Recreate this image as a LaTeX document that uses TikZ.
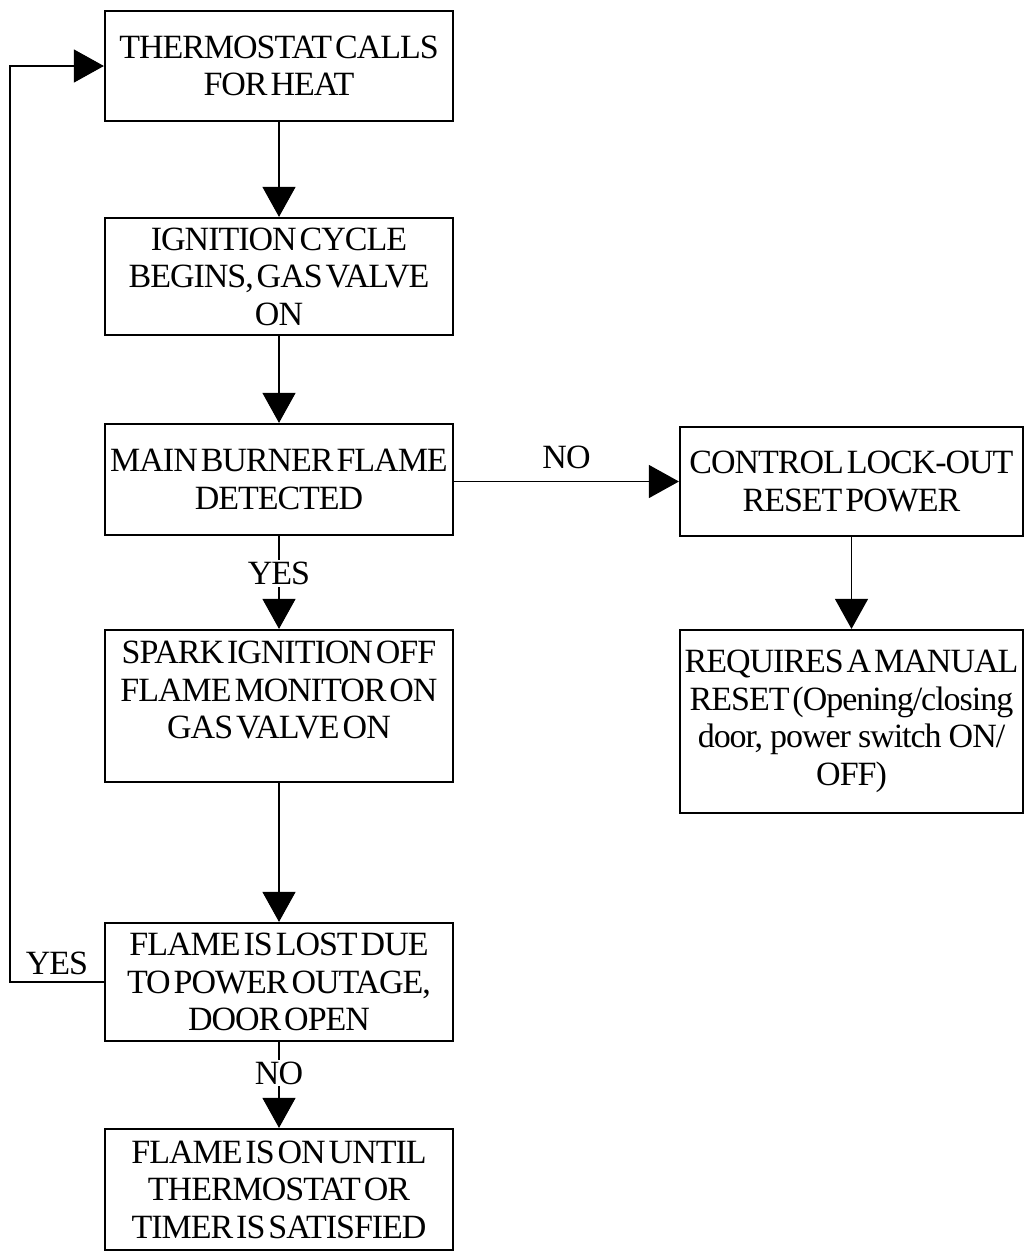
\documentclass[tikz,border=0pt]{standalone}
\usepackage{fontspec}
\setmainfont{Liberation Serif}[WordSpace=0.4,LetterSpace=-3]
\usetikzlibrary{arrows.meta}
\tikzset{
  box/.style={draw, line width=2.2pt, minimum width=348pt, inner sep=0pt, align=center,
    font=\fontsize{34}{37.5}\selectfont},
  rbox/.style={box, minimum width=343pt},
  txt/.style={inner sep=0pt, align=center, font=\fontsize{34}{37.5}\selectfont},
  conn/.style={line width=1.1pt, -{Triangle[width=33pt,length=30pt]}},
  lab/.style={fill=white, inner sep=2pt, font=\fontsize{34}{37.5}\selectfont}
}
\begin{document}
\begin{tikzpicture}[x=1pt,y=-1pt]
\useasboundingbox (0,0) rectangle (1024,1251);
\node[box, minimum height=110pt] (b1) at (279,66) {THERMOSTAT CALLS\\FOR HEAT};
\node[box, minimum height=117pt] (b2) at (279,276.5) {IGNITION CYCLE\\BEGINS, GAS VALVE\\ON};
\node[box, minimum height=111pt] (b3) at (279,479.5) {MAIN BURNER FLAME\\DETECTED};
\node[rbox, minimum height=109pt] (b4) at (851.5,481.5) {CONTROL LOCK-OUT\\RESET POWER};
\node[box, minimum height=152pt] (b5) at (279,706) {};
\node[txt] (b5t) at (279,690) {SPARK IGNITION OFF\\FLAME MONITOR ON\\GAS VALVE ON};
\node[box, minimum height=118pt] (b6) at (279,982) {FLAME IS LOST DUE\\TO POWER OUTAGE,\\DOOR OPEN};
\node[box, minimum height=121pt] (b7) at (279,1189.5) {FLAME IS ON UNTIL\\THERMOSTAT OR\\TIMER IS SATISFIED};
\node[rbox, minimum height=183pt] (b8) at (851.5,721.5) {REQUIRES A MANUAL\\RESET (Opening/closing\\door,\hspace{7pt}power\hspace{7pt}switch\hspace{7pt}ON/\\OFF)};
\coordinate (lp) at (10,0);
\draw[conn] (b1) -- (b2);
\draw[conn] (b2) -- (b3);
\draw[conn] (b3) -- node[pos=0.4, lab] (ly1) {YES} (b5);
\draw[conn] (b3.east |- b4.west) -- node[above=10pt, lab, fill=none] (ln1) {NO} (b4.west);
\draw[conn] (b4) -- (b8);
\draw[conn] (b5) -- (b6);
\draw[conn] (b6) -- node[pos=0.36, lab] (ln2) {NO} (b7);
\draw[conn] (b6.west) -- node[above=5pt, lab, fill=none] (ly2) {YES} (b6.west -| lp) |- (b1.west);
\end{tikzpicture}
\end{document}
